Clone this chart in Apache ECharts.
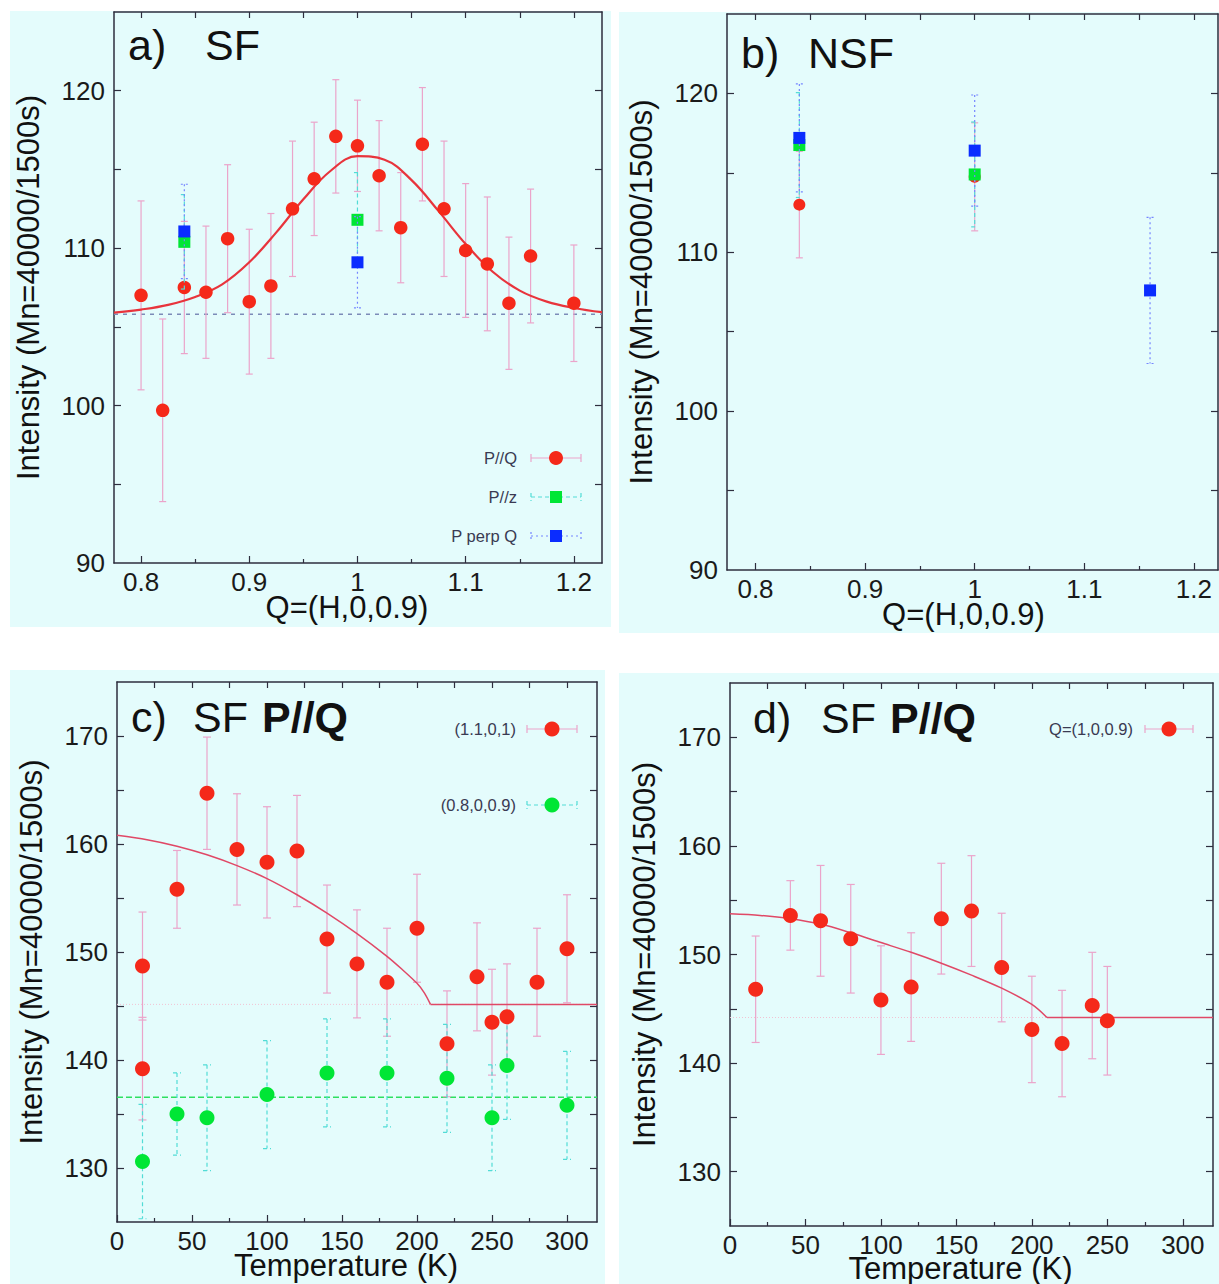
<!DOCTYPE html>
<html>
<head>
<meta charset="utf-8">
<script src="https://cdn.jsdelivr.net/npm/echarts@6/dist/echarts.min.js"></script>
<style>
html,body{margin:0;padding:0;background:#ffffff;}
#chart{width:1219px;height:1284px;}
</style>
</head>
<body>
<div id="chart"></div>
<script>
// ================= DATA =================
// Panel a) SF, Q=(H,0,0.9) scan
const qA = [0.80, 0.82, 0.84, 0.86, 0.88, 0.90, 0.92, 0.94, 0.96, 0.98, 1.00, 1.02, 1.04, 1.06, 1.08, 1.10, 1.12, 1.14, 1.16, 1.20];
const aPQ = [107.0, 99.7, 107.5, 107.2, 110.6, 106.6, 107.6, 112.5, 114.4, 117.1, 116.5, 114.6, 111.3, 116.6, 112.5, 109.85, 109.0, 106.5, 109.5, 106.5];
const aPQErr = [6.0, 5.8, 4.2, 4.2, 4.7, 4.6, 4.6, 4.3, 3.6, 3.6, 2.9, 3.5, 3.5, 3.6, 4.3, 4.25, 4.25, 4.2, 4.25, 3.7];
const qAz = [0.84, 1.00];
const aPz = [110.4, 111.8];
const aPzErr = [3.0, 3.0];
const qAp = [0.84, 1.00];
const aPperp = [111.06, 109.1];
const aPperpErr = [3.0, 2.9];
const fitAQ = [0.775, 0.80, 0.825, 0.85, 0.875, 0.90, 0.925, 0.95, 0.975, 1.00, 1.025, 1.05, 1.075, 1.10, 1.125, 1.15, 1.175, 1.20, 1.226];
const fitAVal = [105.9, 106.1, 106.4, 106.9, 107.7, 109.1, 111.0, 113.1, 114.9, 115.84, 115.62, 114.32, 112.35, 110.26, 108.5, 107.3, 106.6, 106.2, 105.93];
const baseAQ = [0.775, 1.226];
const baseAVal = [105.8, 105.8];

// Panel b) NSF
const qBq = [0.84, 1.00];
const bPQ = [113.0, 114.75];
const bPQErr = [3.35, 3.4];
const qBz = [0.84, 1.00];
const bPz = [116.75, 114.9];
const bPzErr = [3.3, 3.3];
const qBp = [0.84, 1.00, 1.16];
const bPperp = [117.2, 116.4, 107.6];
const bPperpErr = [3.4, 3.5, 4.6];

// Panel c) SF P//Q vs temperature
const tC11 = [17, 17, 40, 60, 80, 100, 120, 140, 160, 180, 200, 220, 240, 250, 260, 280, 300];
const c11 = [148.7, 139.2, 155.8, 164.7, 159.5, 158.3, 159.35, 151.2, 148.9, 147.2, 152.2, 141.5, 147.7, 143.5, 144.0, 147.2, 150.3];
const c11Err = [5.0, 4.75, 3.6, 5.2, 5.15, 5.15, 5.15, 5.0, 5.0, 5.0, 5.0, 4.9, 5.0, 4.9, 4.9, 5.0, 5.0];
const tC08 = [17, 40, 60, 100, 140, 180, 220, 250, 260, 300];
const c08 = [130.6, 135.0, 134.65, 136.8, 138.8, 138.8, 138.3, 134.65, 139.5, 135.8];
const c08Err = [5.3, 3.8, 4.9, 5.0, 5.0, 5.0, 5.0, 4.9, 5.0, 5.0];
const fitCT = [0, 20, 40, 60, 80, 100, 120, 140, 160, 180, 190, 200, 205, 209];
const fitCVal = [160.8, 160.4, 159.8, 159.0, 158.0, 156.8, 155.3, 153.6, 151.7, 149.6, 148.4, 147.1, 146.2, 145.15];
const flatCT = [209, 320];
const flatCVal = [145.15, 145.15];
const baseCT = [0, 320];
const baseCGreen = [136.55, 136.55];
const baseCRed = [145.15, 145.15];

// Panel d) SF P//Q, Q=(1,0,0.9)
const tD = [17, 40, 60, 80, 100, 120, 140, 160, 180, 200, 220, 240, 250];
const dVal = [146.8, 153.6, 153.1, 151.45, 145.8, 147.0, 153.3, 154.0, 148.8, 143.1, 141.8, 145.3, 143.9];
const dErr = [4.9, 3.2, 5.1, 5.0, 5.0, 5.0, 5.1, 5.1, 5.0, 4.9, 4.9, 4.9, 5.0];
const fitDT = [0, 20, 40, 60, 80, 100, 120, 140, 160, 180, 200, 210];
const fitDVal = [153.75, 153.6, 153.3, 152.8, 152.0, 151.1, 150.2, 149.2, 148.1, 146.9, 145.4, 144.2];
const flatDT = [210, 320];
const flatDVal = [144.2, 144.2];
const baseDT = [0, 320];
const baseDVal = [144.2, 144.2];

// Tick / label values
const qLabels = [0.8, 0.9, 1.0, 1.1, 1.2];
const qMinor = [0.85, 0.95, 1.05, 1.15];
const qAll = [0.8, 0.85, 0.9, 0.95, 1.0, 1.05, 1.1, 1.15, 1.2];
const iLabelsAB = [90, 100, 110, 120];
const iTicksAB = [95, 100, 105, 110, 115, 120];
const tLabels = [0, 50, 100, 150, 200, 250, 300];
const tMinor = [25, 75, 125, 175, 225, 275];
const tAll = [25, 50, 75, 100, 125, 150, 175, 200, 225, 250, 275, 300];
const iLabelsCD = [130, 140, 150, 160, 170];
const iTicksCD = [130, 135, 140, 145, 150, 155, 160, 165, 170];

// ================= STYLE =================
const FONT = "'Liberation Sans', Arial, Helvetica, sans-serif";
const BG = '#e4fcfc';
const AX = '#2e2e3e';
const RED = '#f5291a', GREEN = '#00e635', BLUE = '#0a2cff';
const PINK = '#eba4ca', CYAN = '#52dcd6', LBLUE = '#7585ff';
const YNAME = 'Intensity (Mn=40000/1500s)';

function fmt(v) { return String(Math.round(v * 100) / 100); }

function xAxesFor(g, min, max, labels, minor, all, name, nameGap, shift) {
  const line = {show: true, onZero: false, lineStyle: {color: AX, width: 1.5}};
  return [
    {gridIndex: g, type: 'value', position: 'bottom', min: min, max: max,
     name: name, nameLocation: 'middle', nameGap: nameGap, nameMoveOverlap: false,
     nameTextStyle: {fontFamily: FONT, fontSize: 31, color: '#111', padding: [0, shift * 2, 0, 0], lineHeight: 31},
     axisLine: line,
     axisTick: {show: true, inside: true, length: 7, customValues: labels, lineStyle: {color: AX, width: 1.2}},
     axisLabel: {show: true, customValues: labels, margin: 6, formatter: fmt, fontFamily: FONT, fontSize: 26, color: '#1a1a1a'},
     splitLine: {show: false}},
    {gridIndex: g, type: 'value', position: 'bottom', min: min, max: max,
     axisLine: {show: false},
     axisTick: {show: true, inside: true, length: 4, customValues: minor, lineStyle: {color: AX, width: 1.2}},
     axisLabel: {show: false}, splitLine: {show: false}},
    {gridIndex: g, type: 'value', position: 'top', min: min, max: max,
     axisLine: line,
     axisTick: {show: true, inside: true, length: 6, customValues: all, lineStyle: {color: AX, width: 1.2}},
     axisLabel: {show: false}, splitLine: {show: false}}
  ];
}

function yAxesFor(g, min, max, labels, ticks, nameGap) {
  const line = {show: true, onZero: false, lineStyle: {color: AX, width: 1.5}};
  return [
    {gridIndex: g, type: 'value', position: 'left', min: min, max: max,
     name: YNAME, nameLocation: 'middle', nameGap: nameGap, nameRotate: 90, nameMoveOverlap: false,
     nameTextStyle: {fontFamily: FONT, fontSize: 31, color: '#111'},
     axisLine: line,
     axisTick: {show: true, inside: true, length: 7, customValues: ticks, lineStyle: {color: AX, width: 1.2}},
     axisLabel: {show: true, customValues: labels, margin: 9, formatter: fmt, fontFamily: FONT, fontSize: 26, color: '#1a1a1a'},
     splitLine: {show: false}},
    {gridIndex: g, type: 'value', position: 'right', min: min, max: max,
     axisLine: line,
     axisTick: {show: true, inside: true, length: 7, customValues: ticks, lineStyle: {color: AX, width: 1.2}},
     axisLabel: {show: false}, splitLine: {show: false}}
  ];
}

function zip(xs, ys) { return xs.map((x, i) => [x, ys[i]]); }

function errSeries(g, xs, ys, es, color, dash, cap, z) {
  return {
    type: 'custom', xAxisIndex: 3 * g, yAxisIndex: 2 * g, z: z, silent: true,
    data: xs.map((x, i) => [x, ys[i], es[i]]),
    renderItem: function (params, api) {
      const x = api.value(0), y = api.value(1), e = api.value(2);
      const top = api.coord([x, y + e]);
      const bot = api.coord([x, y - e]);
      const st = {stroke: color, lineWidth: 1.2, lineDash: dash, fill: null};
      return {type: 'group', children: [
        {type: 'line', shape: {x1: top[0], y1: top[1], x2: bot[0], y2: bot[1]}, style: st},
        {type: 'line', shape: {x1: top[0] - cap, y1: top[1], x2: top[0] + cap, y2: top[1]}, style: st},
        {type: 'line', shape: {x1: bot[0] - cap, y1: bot[1], x2: bot[0] + cap, y2: bot[1]}, style: st}
      ]};
    }
  };
}

function ptSeries(g, name, xs, ys, symbol, size, color, z) {
  return {type: 'scatter', name: name, xAxisIndex: 3 * g, yAxisIndex: 2 * g, z: z, silent: true,
          symbol: symbol, symbolSize: size, itemStyle: {color: color, opacity: 1},
          data: zip(xs, ys)};
}

function lineSeries(g, xs, ys, color, width, dash, smooth, z) {
  return {type: 'line', xAxisIndex: 3 * g, yAxisIndex: 2 * g, z: z, silent: true,
          showSymbol: false, symbol: 'none', smooth: smooth,
          lineStyle: {color: color, width: width, type: dash || 'solid'},
          data: zip(xs, ys)};
}

// ================= LEGEND / TITLE GRAPHICS =================
function txt(x, y, text, size, weight, color, align) {
  return {type: 'text', x: x, y: y, silent: true, z: 50,
          style: {text: text, fontSize: size, fontFamily: FONT, fontWeight: weight || 'normal',
                  fill: color || '#111', align: align || 'left', verticalAlign: 'middle'}};
}
function legendItem(textRight, y, label, x1, x2, barColor, dash, markerType, markerColor, r) {
  const cx = (x1 + x2) / 2;
  const st = {stroke: barColor, lineWidth: 1.2, lineDash: dash};
  const out = [
    txt(textRight, y, label, 16.5, 'normal', '#3a3a52', 'right'),
    {type: 'line', silent: true, z: 50, shape: {x1: x1, y1: y, x2: x2, y2: y}, style: st},
    {type: 'line', silent: true, z: 50, shape: {x1: x1, y1: y - 4, x2: x1, y2: y + 4}, style: st},
    {type: 'line', silent: true, z: 50, shape: {x1: x2, y1: y - 4, x2: x2, y2: y + 4}, style: st}
  ];
  if (markerType === 'circle') {
    out.push({type: 'circle', silent: true, z: 51, shape: {cx: cx, cy: y, r: r}, style: {fill: markerColor}});
  } else {
    out.push({type: 'rect', silent: true, z: 51, shape: {x: cx - r, y: y - r, width: 2 * r, height: 2 * r}, style: {fill: markerColor}});
  }
  return out;
}

const graphics = [
  {type: 'rect', silent: true, z: -10, shape: {x: 10, y: 11, width: 601, height: 616}, style: {fill: BG}},
  {type: 'rect', silent: true, z: -10, shape: {x: 619, y: 12, width: 600, height: 621}, style: {fill: BG}},
  {type: 'rect', silent: true, z: -10, shape: {x: 10, y: 670, width: 595, height: 614}, style: {fill: BG}},
  {type: 'rect', silent: true, z: -10, shape: {x: 619, y: 673, width: 600, height: 611}, style: {fill: BG}},
  txt(128, 45, 'a)', 43), txt(205, 45, 'SF', 43),
  txt(741, 53, 'b)', 43), txt(808, 53, 'NSF', 43),
  txt(131, 717, 'c)', 43), txt(193, 717, 'SF', 43), txt(262, 717, 'P//Q', 43, 'bold'),
  txt(753, 718, 'd)', 43), txt(821, 718, 'SF', 43), txt(890, 718, 'P//Q', 43, 'bold')
].concat(
  legendItem(517, 458, 'P//Q', 531, 581, PINK, null, 'circle', RED, 7),
  legendItem(517, 497, 'P//z', 531, 581, CYAN, [4, 3], 'rect', GREEN, 6),
  legendItem(517, 536, 'P perp Q', 531, 581, LBLUE, [2, 3], 'rect', BLUE, 6),
  legendItem(516, 729, '(1.1,0,1)', 527, 577, PINK, null, 'circle', RED, 7.5),
  legendItem(516, 805, '(0.8,0,0.9)', 527, 577, CYAN, [4, 3], 'circle', GREEN, 7.5),
  legendItem(1133, 729, 'Q=(1,0,0.9)', 1145, 1193, PINK, null, 'circle', RED, 7.5)
);

// ================= OPTION =================
const xAxes = [].concat(
  xAxesFor(0, 0.775, 1.226, qLabels, qMinor, qAll, 'Q=(H,0,0.9)', 29, 11),
  xAxesFor(1, 0.774, 1.222, qLabels, qMinor, qAll, 'Q=(H,0,0.9)', 29, 9),
  xAxesFor(2, 0, 320, tLabels, tMinor, tAll, 'Temperature (K)', 28, 11),
  xAxesFor(3, 0, 320, tLabels, tMinor, tAll, 'Temperature (K)', 27, 11)
);
const yAxes = [].concat(
  yAxesFor(0, 90, 125, iLabelsAB, iTicksAB, 70),
  yAxesFor(1, 90, 125, iLabelsAB, iTicksAB, 70),
  yAxesFor(2, 125, 175, iLabelsCD, iTicksCD, 70),
  yAxesFor(3, 125, 175, iLabelsCD, iTicksCD, 70)
);

const series = [
  // a
  lineSeries(0, baseAQ, baseAVal, '#7c8bb8', 1.5, [4, 5], false, 1),
  errSeries(0, qA, aPQ, aPQErr, PINK, null, 3.5, 2),
  lineSeries(0, fitAQ, fitAVal, '#e8343c', 2.2, null, 0.4, 3),
  ptSeries(0, 'P//Q', qA, aPQ, 'circle', 13.5, RED, 4),
  errSeries(0, qAz, aPz, aPzErr, CYAN, [4, 3], 3.5, 5),
  ptSeries(0, 'P//z', qAz, aPz, 'rect', 12, GREEN, 6),
  errSeries(0, qAp, aPperp, aPperpErr, LBLUE, [2, 3], 3.5, 7),
  ptSeries(0, 'P perp Q', qAp, aPperp, 'rect', 12, BLUE, 8),
  // b
  errSeries(1, qBq, bPQ, bPQErr, PINK, null, 3.5, 2),
  ptSeries(1, 'P//Q NSF', qBq, bPQ, 'circle', 12, RED, 4),
  errSeries(1, qBz, bPz, bPzErr, CYAN, [4, 3], 3.5, 5),
  ptSeries(1, 'P//z NSF', qBz, bPz, 'rect', 12, GREEN, 6),
  errSeries(1, qBp, bPperp, bPperpErr, LBLUE, [2, 3], 3.5, 7),
  ptSeries(1, 'P perp Q NSF', qBp, bPperp, 'rect', 12, BLUE, 8),
  // c
  lineSeries(2, baseCT, baseCRed, '#f2c2d2', 1, [1, 2], false, 1),
  lineSeries(2, baseCT, baseCGreen, '#2ee060', 1.5, [6, 3], false, 1),
  errSeries(2, tC11, c11, c11Err, PINK, null, 4, 2),
  errSeries(2, tC08, c08, c08Err, CYAN, [4, 3], 4, 2),
  lineSeries(2, fitCT, fitCVal, '#e04866', 1.5, null, 0.3, 3),
  lineSeries(2, flatCT, flatCVal, '#e04866', 1.5, null, false, 3),
  ptSeries(2, '(1.1,0,1)', tC11, c11, 'circle', 15, RED, 4),
  ptSeries(2, '(0.8,0,0.9)', tC08, c08, 'circle', 15, GREEN, 4),
  // d
  lineSeries(3, baseDT, baseDVal, '#f2c2d2', 1, [1, 2], false, 1),
  errSeries(3, tD, dVal, dErr, PINK, null, 4, 2),
  lineSeries(3, fitDT, fitDVal, '#e04866', 1.5, null, 0.3, 3),
  lineSeries(3, flatDT, flatDVal, '#e04866', 1.5, null, false, 3),
  ptSeries(3, 'Q=(1,0,0.9)', tD, dVal, 'circle', 15, RED, 4)
];

const chart = echarts.init(document.getElementById('chart'), null, {renderer: 'svg', width: 1219, height: 1284});
chart.setOption({
  backgroundColor: '#ffffff',
  animation: false,
  grid: [
    {left: 114, top: 12, width: 488, height: 551, outerBoundsMode: 'none', containLabel: false},
    {left: 727, top: 14, width: 491, height: 556, outerBoundsMode: 'none', containLabel: false},
    {left: 117, top: 682, width: 480, height: 540, outerBoundsMode: 'none', containLabel: false},
    {left: 730, top: 683, width: 483, height: 543, outerBoundsMode: 'none', containLabel: false}
  ],
  xAxis: xAxes,
  yAxis: yAxes,
  series: series,
  graphic: {elements: graphics}
});
</script>
</body>
</html>
